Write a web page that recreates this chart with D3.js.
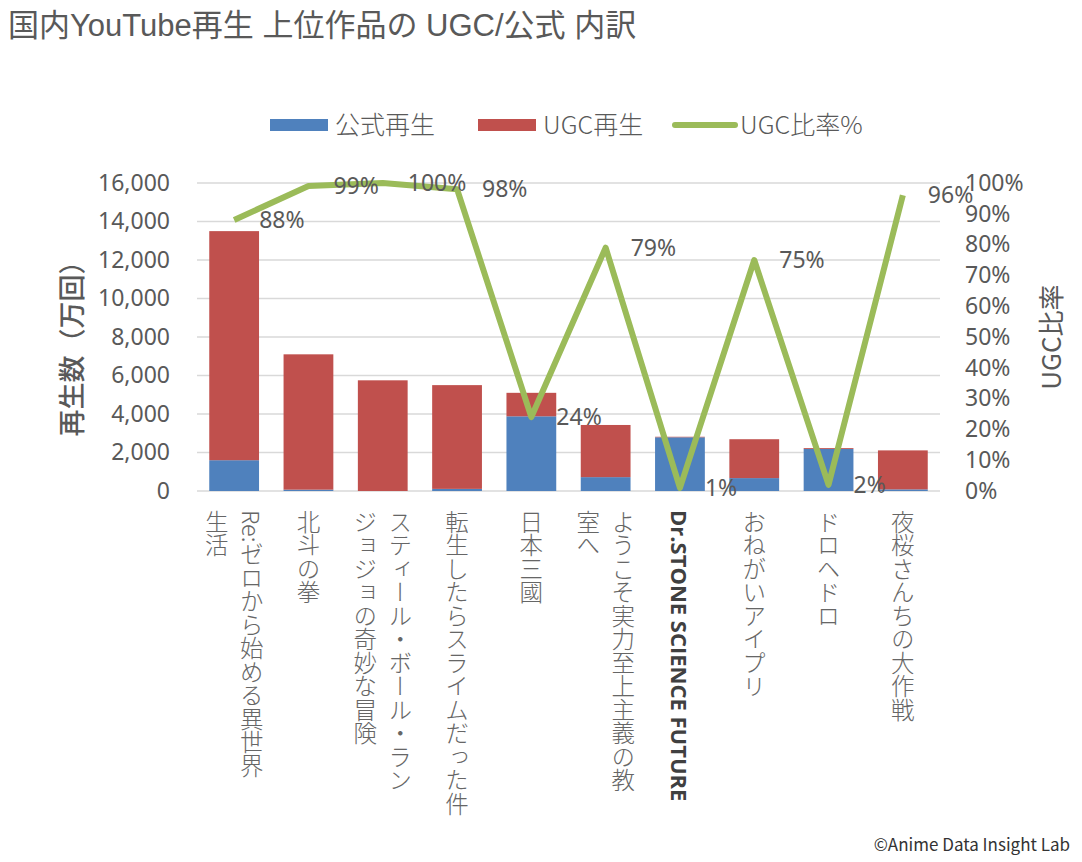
<!DOCTYPE html>
<html>
<head>
<meta charset="utf-8">
<script src="https://cdn.jsdelivr.net/npm/d3@7"></script>
<style>
  body { margin: 0; background: #fff; }
  svg { display: block; }
</style>
</head>
<body>
<div class="canvas"></div>
<script>
// data
const titles = [
  ['Re:ゼロから始める異世界', '生活'],
  ['北斗の拳'],
  ['スティール・ボール・ラン', 'ジョジョの奇妙な冒険'],
  ['転生したらスライムだった件'],
  ['日本三國'],
  ['ようこそ実力至上主義の教', '室へ'],
  ['Dr.STONE SCIENCE FUTURE'],
  ['おねがいアイプリ'],
  ['ドロヘドロ'],
  ['夜桜さんちの大作戦']
];
const officialPlays = [1600, 70, 0, 110, 3880, 720, 2790, 670, 2185, 85];
const ugcPlays = [11900, 7030, 5750, 5390, 1220, 2710, 28, 2020, 45, 2025];
const ugcRatio = [0.88, 0.99, 1.00, 0.98, 0.24, 0.79, 0.01, 0.75, 0.02, 0.96];
const ratioLabels = ['88%', '99%', '100%', '98%', '24%', '79%', '1%', '75%', '2%', '96%'];
const leftTicks = [0, 2000, 4000, 6000, 8000, 10000, 12000, 14000, 16000];
const rightTicks = [0, 0.1, 0.2, 0.3, 0.4, 0.5, 0.6, 0.7, 0.8, 0.9, 1.0];
const seriesNames = ['公式再生', 'UGC再生', 'UGC比率%'];

const BLUE = '#4f81bd', RED = '#c0504d', GREEN = '#9bbb59', GREY = '#595959';
const jp = '"Noto Sans CJK JP", "Noto Sans", sans-serif';
const num = '"Noto Sans", "Noto Sans CJK JP", sans-serif';

const svg = d3.select('.canvas')
  .append('svg')
  .attr('width', 1082)
  .attr('height', 862)

const keys = titles.map((t, i) => 'c' + i);
const rows = keys.map((k, i) => ({ key: k, official: officialPlays[i], ugc: ugcPlays[i] }));

const x = d3.scaleBand().domain(keys).range([197, 940]).paddingInner(0.33).paddingOuter(0.165);
const y = d3.scaleLinear().domain([0, 16000]).range([491, 183]);
const yr = d3.scaleLinear().domain([0, 1]).range([491, 183]);

// title
svg.append('text')
  .attr('x', 8).attr('y', 36)
  .attr('font-family', '"Liberation Sans", "Noto Sans CJK JP", sans-serif')
  .attr('font-size', 31)
  .attr('fill', GREY)
  .text('国内YouTube再生 上位作品の UGC/公式 内訳')

// gridlines
svg.append('g').selectAll('line')
  .data(leftTicks)
  .join('line')
  .attr('x1', 197).attr('x2', 940)
  .attr('y1', d => y(d)).attr('y2', d => y(d))
  .attr('stroke', '#d9d9d9')
  .attr('stroke-width', 1.5)

// left axis
const leftAxis = svg.append('g')
  .attr('transform', 'translate(197,0)')
  .call(d3.axisLeft(y).tickValues(leftTicks).tickFormat(d3.format(',')).tickSize(0).tickPadding(27))
leftAxis.select('.domain').remove()
leftAxis.selectAll('text')
  .attr('font-family', num).attr('font-size', 23).attr('fill', GREY)

// right axis
const rightAxis = svg.append('g')
  .attr('transform', 'translate(940,0)')
  .call(d3.axisRight(yr).tickValues(rightTicks).tickFormat(d3.format('.0%')).tickSize(0).tickPadding(25))
rightAxis.select('.domain').remove()
rightAxis.selectAll('text')
  .attr('font-family', num).attr('font-size', 23).attr('fill', GREY)

// axis titles
svg.append('text')
  .attr('transform', 'translate(82,342) rotate(-90)')
  .attr('text-anchor', 'middle')
  .attr('font-family', jp).attr('font-size', 27).attr('font-weight', 500)
  .attr('fill', GREY)
  .text('再生数（万回）')

svg.append('text')
  .attr('transform', 'translate(1061,337) rotate(-90)')
  .attr('text-anchor', 'middle')
  .attr('font-family', jp).attr('font-size', 26)
  .attr('fill', GREY)
  .text('UGC比率')

// stacked bars
const stacked = d3.stack().keys(['official', 'ugc'])(rows);
const colors = { official: BLUE, ugc: RED };
svg.append('g').selectAll('g')
  .data(stacked)
  .join('g')
  .attr('fill', s => colors[s.key])
  .selectAll('rect')
  .data(s => s)
  .join('rect')
  .attr('x', d => x(d.data.key))
  .attr('width', x.bandwidth())
  .attr('y', d => y(d[1]))
  .attr('height', d => y(d[0]) - y(d[1]))

// ratio line
const cx = (i) => x(keys[i]) + x.bandwidth() / 2;
const line = d3.line()
  .x((d, i) => cx(i))
  .y(d => yr(d))
svg.append('path')
  .datum(ugcRatio)
  .attr('d', line)
  .attr('fill', 'none')
  .attr('stroke', GREEN)
  .attr('stroke-width', 6)
  .attr('stroke-linejoin', 'round')

svg.append('g').selectAll('text')
  .data(ugcRatio)
  .join('text')
  .attr('x', (d, i) => cx(i) + 25)
  .attr('y', d => yr(d))
  .attr('dy', '0.35em')
  .attr('font-family', num).attr('font-size', 23).attr('fill', GREY)
  .text((d, i) => ratioLabels[i])

// category labels, vertical
const labels = svg.append('g');
titles.forEach((lines, i) => {
  const n = lines.length;
  lines.forEach((t, j) => {
    const isLatin = /^[\x00-\x7f]+$/.test(t);
    labels.append('text')
      .attr('x', cx(i) + ((n - 1) / 2 - j) * 35)
      .attr('y', 510)
      .style('writing-mode', 'vertical-rl')
      .attr('font-family', isLatin ? '"Open Sans", sans-serif' : jp)
      .attr('font-size', isLatin ? 22 : 23.5)
      .attr('font-weight', isLatin ? 'bold' : 300)
      .attr('fill', isLatin ? '#404040' : '#666')
      .text(t)
  })
})

// legend
const legendItems = [
  { name: seriesNames[0], color: BLUE, kind: 'rect', x: 270 },
  { name: seriesNames[1], color: RED, kind: 'rect', x: 478 },
  { name: seriesNames[2], color: GREEN, kind: 'line', x: 675 }
];
const legend = svg.append('g');
legendItems.forEach(item => {
  if (item.kind === 'rect') {
    legend.append('rect')
      .attr('x', item.x).attr('y', 119)
      .attr('width', 58).attr('height', 12)
      .attr('fill', item.color)
  } else {
    legend.append('line')
      .attr('x1', item.x).attr('x2', item.x + 60)
      .attr('y1', 125).attr('y2', 125)
      .attr('stroke', item.color).attr('stroke-width', 6)
      .attr('stroke-linecap', 'round')
  }
  legend.append('text')
    .attr('x', item.x + 65).attr('y', 125)
    .attr('dy', '0.35em')
    .attr('font-family', jp).attr('font-size', 25).attr('font-weight', 300)
    .attr('fill', GREY)
    .text(item.name)
})

// credit
svg.append('text')
  .attr('x', 1070).attr('y', 851)
  .attr('text-anchor', 'end')
  .attr('font-family', jp).attr('font-size', 17)
  .attr('fill', '#333')
  .text('©Anime Data Insight Lab')
</script>
</body>
</html>
